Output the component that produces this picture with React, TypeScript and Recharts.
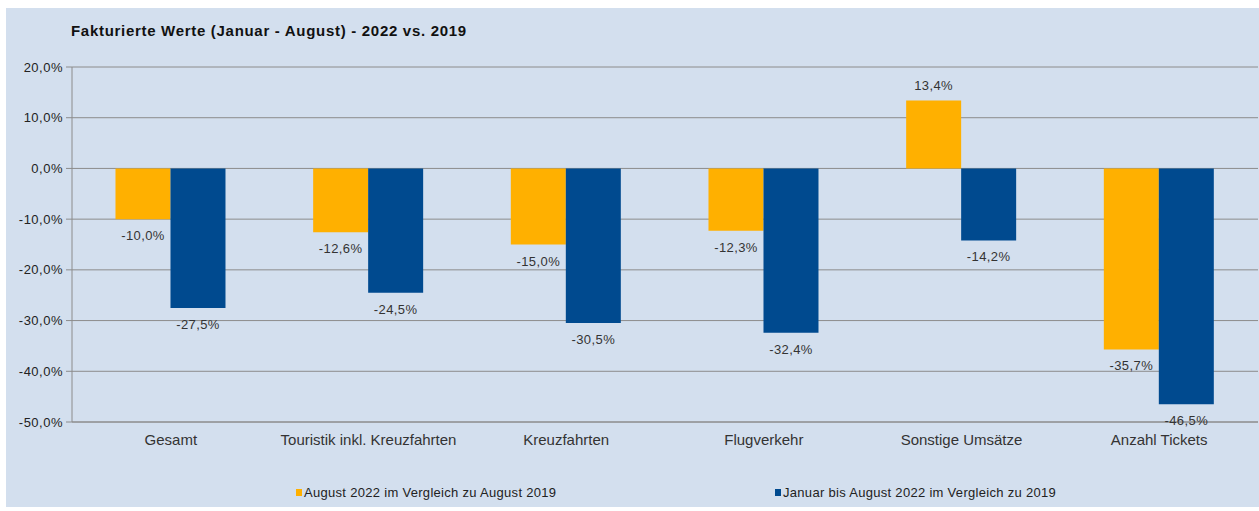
import React from 'react'
import {
  BarChart,
  Bar,
  XAxis,
  YAxis,
  CartesianGrid,
  LabelList,
} from 'recharts'

const categories = [
  'Gesamt',
  'Touristik inkl. Kreuzfahrten',
  'Kreuzfahrten',
  'Flugverkehr',
  'Sonstige Umsätze',
  'Anzahl Tickets',
]
const august = [-10.0, -12.6, -15.0, -12.3, 13.4, -35.7]
const janAug = [-27.5, -24.5, -30.5, -32.4, -14.2, -46.5]
const yTicks = [20, 10, 0, -10, -20, -30, -40, -50]

const seriesNames = {
  august: 'August 2022 im Vergleich zu August 2019',
  janAug: 'Januar bis August 2022 im Vergleich zu 2019',
}

const YELLOW = '#FFB000'
const BLUE = '#004A8F'
const BG = '#D3DFEE'
const FONT = '"Liberation Sans", Arial, sans-serif'

const data = categories.map((name, i) => ({
  name,
  august: august[i],
  janAug: janAug[i],
}))

const pct = (v: number) => v.toFixed(1).replace('.', ',') + '%'

function BarLabel(props: any) {
  const { x, y, width, height, value } = props
  const top = Math.min(y, y + height)
  const bottom = Math.max(y, y + height)
  const cx = x + width / 2
  const ty = value < 0 ? bottom + 21 : top - 10
  return (
    <text
      x={cx}
      y={ty}
      textAnchor="middle"
      fontSize={13}
      letterSpacing={0.4}
      fill="#333"
      fontFamily={FONT}
    >
      {pct(value)}
    </text>
  )
}

function LegendItem({ color, label, left }: { color: string; label: string; left: number }) {
  return (
    <div
      style={{
        position: 'absolute',
        left,
        top: 477,
        display: 'flex',
        alignItems: 'center',
        fontFamily: FONT,
        fontSize: 13,
        letterSpacing: 0.3,
        color: '#222',
        whiteSpace: 'nowrap',
      }}
    >
      <span style={{ width: 6, height: 7, background: color, marginRight: 2 }} />
      {label}
    </div>
  )
}

export default function App() {
  return (
    <div
      style={{
        position: 'absolute',
        left: 6,
        top: 8,
        width: 1253,
        height: 499,
        background: BG,
      }}
    >
      <div
        style={{
          position: 'absolute',
          left: 65,
          top: 14,
          fontFamily: FONT,
          fontWeight: 'bold',
          fontSize: 15,
          letterSpacing: 0.7,
          color: '#111',
          whiteSpace: 'nowrap',
        }}
      >
        Fakturierte Werte (Januar - August) - 2022 vs. 2019
      </div>
      <BarChart
        width={1253}
        height={499}
        data={data}
        margin={{ top: 59, right: 1, left: 6, bottom: 55 }}
        barCategoryGap="22%"
        barGap={0}
        style={{ fontFamily: FONT }}
      >
        <CartesianGrid vertical={false} stroke="#8C8C8C" strokeWidth={1} />
        <XAxis
          dataKey="name"
          height={30}
          tickLine={false}
          axisLine={{ stroke: '#8C8C8C' }}
          interval={0}
          tick={{ fontSize: 15, fill: '#333' }}
          tickMargin={6}
        />
        <YAxis
          width={60}
          domain={[-50, 20]}
          ticks={yTicks}
          tickFormatter={pct}
          axisLine={{ stroke: '#8C8C8C' }}
          tickLine={{ stroke: '#8C8C8C' }}
          tickSize={6}
          tick={{ fontSize: 13, fill: '#222', letterSpacing: 0.5 }}
          tickMargin={3}
        />
        <Bar dataKey="august" fill={YELLOW} isAnimationActive={false}>
          <LabelList dataKey="august" content={BarLabel} />
        </Bar>
        <Bar dataKey="janAug" fill={BLUE} isAnimationActive={false}>
          <LabelList dataKey="janAug" content={BarLabel} />
        </Bar>
      </BarChart>
      <LegendItem color={YELLOW} label={seriesNames.august} left={290} />
      <LegendItem color={BLUE} label={seriesNames.janAug} left={769} />
    </div>
  )
}
